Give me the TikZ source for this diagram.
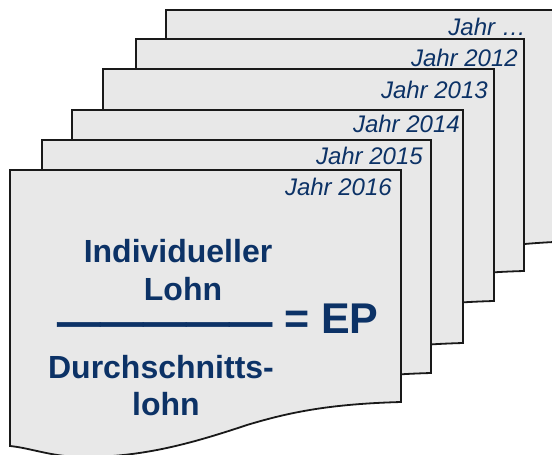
\documentclass[tikz,border=0pt]{standalone}
\usepackage{fontspec}
\setmainfont{Liberation Sans}
\newfontfamily\dashfont{Liberation Sans Bold}[FakeBold=1.2]
\definecolor{navy}{RGB}{12,50,102}
\definecolor{sheetgrey}{RGB}{232,232,232}
\tikzset{
  sheetline/.style={draw=black!90,fill=sheetgrey,line width=1.8pt,line join=miter},
  yearlabel/.style={text=navy,font=\fontsize{24}{26}\selectfont\itshape,anchor=base east,inner sep=0pt},
  bigtext/.style={text=navy,font=\fontsize{32}{44}\selectfont\bfseries,align=center,inner sep=0pt,anchor=base},
  eqtext/.style={text=navy,font=\fontsize{43}{46}\selectfont\bfseries,inner sep=0pt,anchor=base west}
}
% left, top, right, bottom-right y
\newcommand{\sheetshape}[4]{%
  \pgfmathsetmacro{\shtscale}{(#3-#1)/391}
  \path[sheetline] (#1,#2) -- (#3,#2) -- (#3,#4)
   .. controls ({#3-71*\shtscale},{#4+2}) and ({#3-111*\shtscale},{#4+10}) .. ({#3-154*\shtscale},{#4+23})
   .. controls ({#3-211*\shtscale},{#4+42}) and ({#3-261*\shtscale},{#4+56}) .. ({#3-323*\shtscale},{#4+55})
   .. controls ({#3-351*\shtscale},{#4+54}) and ({#3-371*\shtscale},{#4+46}) .. (#1,{#4+44}) -- cycle;}
\begin{document}
\begin{tikzpicture}[x=1pt,y=-1pt]
\useasboundingbox (0,0) rectangle (552,455);
\clip (0,0) rectangle (552,455);
\sheetshape{166}{10}{580}{241}
\node[yearlabel] (y0) at (526,35) {Jahr …};
\sheetshape{136}{39}{524}{271}
\node[yearlabel] (y1) at (518,66) {Jahr 2012};
\sheetshape{103}{69}{494}{301}
\node[yearlabel] (y2) at (488,98) {Jahr 2013};
\sheetshape{72}{110}{463}{343}
\node[yearlabel] (y3) at (460,132) {Jahr 2014};
\sheetshape{42}{140}{431}{373}
\node[yearlabel] (y4) at (423,164) {Jahr 2015};
\sheetshape{10}{170}{401}{402}
\node[yearlabel] (y5) at (392,195) {Jahr 2016};
\node[bigtext] (a) at (178,262) {Individueller};
\node[bigtext] (b) at (183,300) {Lohn};
\node[eqtext] (c) at (57,333) {\raisebox{-3pt}{\dashfont —————} = EP};
\node[bigtext] (d) at (161,378) {Durchschnitts-};
\node[bigtext] (e) at (166,415) {lohn};
\end{tikzpicture}
\end{document}
